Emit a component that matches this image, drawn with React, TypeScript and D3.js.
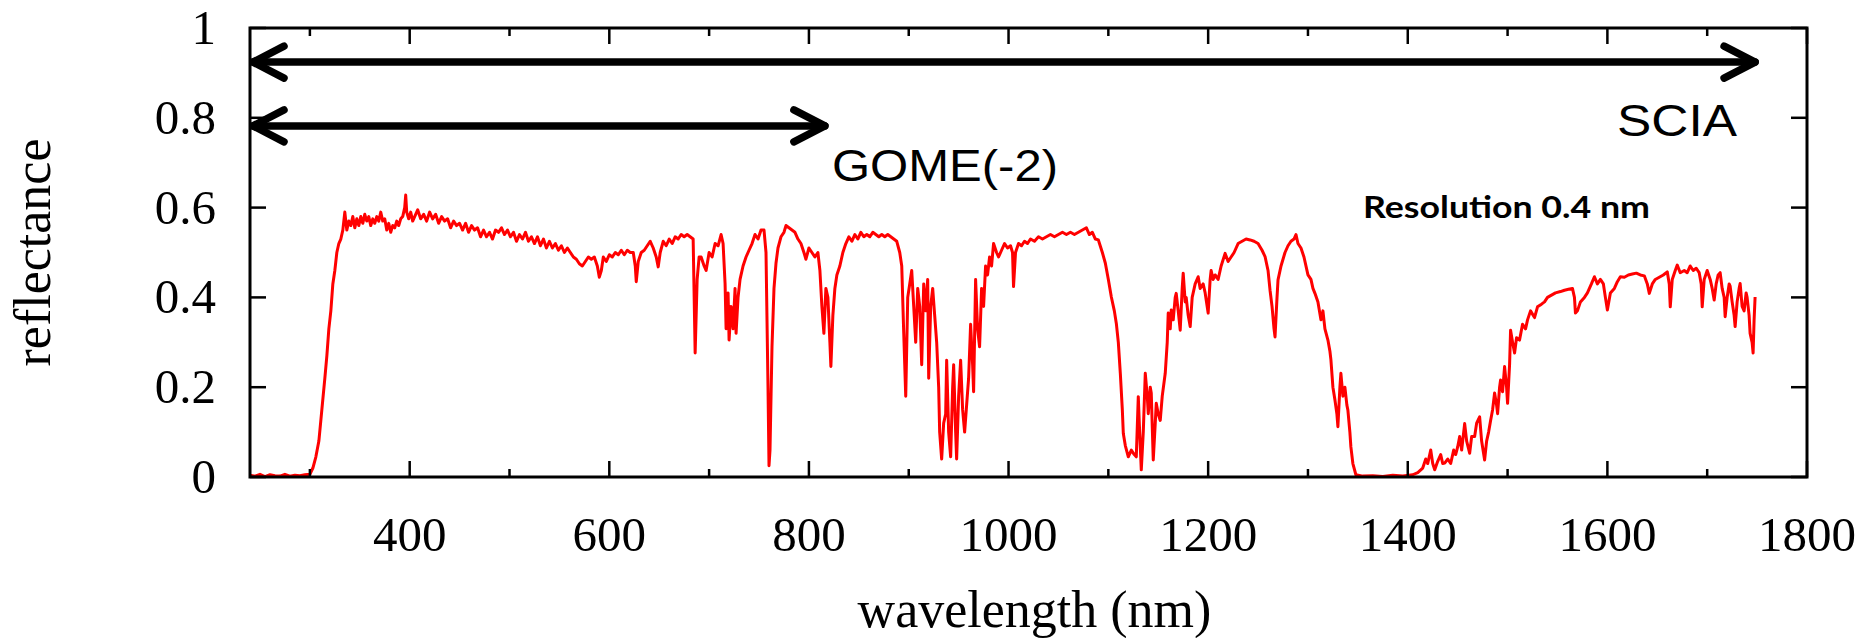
import React from "react";
import * as d3 from "d3";

// ---- data (wavelength nm, reflectance) ----
const uvSegment: [number, number][] = [
  [240, 0.004], [245, 0.002], [250, 0.006], [255, 0.001], [260, 0.005], [265, 0.003], [270, 0.002],
  [275, 0.006], [280, 0.002], [285, 0.004], [290, 0.003], [295, 0.005], [300, 0.006], [303, 0.02],
  [306, 0.045], [309, 0.08], [312, 0.15], [315, 0.22], [317, 0.27], [319, 0.33], [321, 0.37],
  [323, 0.43], [325, 0.46], [327, 0.5], [329, 0.52], [331, 0.53], [333, 0.55], [335, 0.59],
  [337, 0.55], [339, 0.57], [341, 0.56], [343, 0.58], [345, 0.555], [347, 0.575], [349, 0.56],
  [351, 0.58], [353, 0.565], [355, 0.585], [357, 0.57], [359, 0.58], [361, 0.56], [363, 0.575],
  [365, 0.565], [367, 0.58], [369, 0.57], [371, 0.59], [373, 0.57], [375, 0.575], [377, 0.55],
  [379, 0.565], [381, 0.545], [383, 0.56], [385, 0.555], [387, 0.57], [389, 0.56], [391, 0.575],
  [393, 0.58], [395, 0.6], [396, 0.628], [397, 0.59], [399, 0.575], [401, 0.59], [403, 0.57],
];

const visSegment: [number, number][] = [
  [405, 0.58], [408, 0.595], [411, 0.575], [414, 0.585], [417, 0.57], [420, 0.59], [423, 0.575],
  [426, 0.585], [429, 0.565], [432, 0.58], [435, 0.57], [438, 0.575], [441, 0.555], [444, 0.57],
  [447, 0.56], [450, 0.565], [453, 0.55], [456, 0.565], [459, 0.545], [462, 0.56], [465, 0.55],
  [468, 0.555], [471, 0.535], [474, 0.55], [477, 0.535], [480, 0.545], [483, 0.53], [486, 0.55],
  [489, 0.545], [492, 0.555], [495, 0.54], [498, 0.55], [501, 0.535], [504, 0.545], [507, 0.525],
  [510, 0.54], [513, 0.53], [516, 0.545], [519, 0.525], [522, 0.535], [525, 0.52], [528, 0.535],
  [531, 0.515], [534, 0.53], [537, 0.51], [540, 0.525], [543, 0.51], [546, 0.52], [549, 0.505],
  [552, 0.515], [555, 0.5], [558, 0.51], [561, 0.5], [564, 0.49], [567, 0.485], [570, 0.475],
  [573, 0.47], [576, 0.48], [579, 0.49], [582, 0.485], [585, 0.49], [588, 0.47], [590, 0.445],
  [592, 0.46], [594, 0.49], [597, 0.48], [600, 0.495], [603, 0.49], [606, 0.5], [609, 0.495],
  [612, 0.505], [615, 0.495], [618, 0.505], [621, 0.5], [624, 0.5], [626, 0.47], [627, 0.435],
  [629, 0.48], [632, 0.5], [635, 0.505], [638, 0.515], [641, 0.525], [644, 0.51], [647, 0.49],
  [649, 0.468], [651, 0.5], [654, 0.525], [657, 0.515], [660, 0.53], [663, 0.52], [666, 0.535],
  [669, 0.53], [672, 0.54], [675, 0.535], [678, 0.54], [681, 0.535], [684, 0.53], [686, 0.276],
  [688, 0.44], [690, 0.49],
];

const nirSegment: [number, number][] = [
  [692, 0.49], [695, 0.47], [697, 0.46], [700, 0.5], [703, 0.49], [706, 0.52], [709, 0.515],
  [712, 0.54], [714, 0.52], [716, 0.43], [717, 0.33], [719, 0.41], [720, 0.305], [722, 0.38],
  [724, 0.33], [726, 0.42], [727, 0.32], [729, 0.4], [731, 0.44], [734, 0.47], [737, 0.49],
  [740, 0.505], [743, 0.52], [746, 0.54], [749, 0.53], [752, 0.55], [755, 0.55], [757, 0.5],
  [759, 0.2], [760, 0.025], [761, 0.06], [763, 0.29], [765, 0.42], [767, 0.476], [769, 0.51],
  [772, 0.535], [775, 0.545], [777, 0.56], [780, 0.555], [783, 0.55], [786, 0.545], [789, 0.53],
  [792, 0.52], [795, 0.5], [797, 0.485], [800, 0.51], [803, 0.5], [806, 0.49], [809, 0.5],
  [811, 0.46], [813, 0.38], [815, 0.32], [817, 0.42], [819, 0.4], [821, 0.3], [822, 0.246],
  [824, 0.36], [826, 0.42], [828, 0.45], [831, 0.47], [834, 0.5], [837, 0.52], [840, 0.535],
  [843, 0.525], [846, 0.54], [849, 0.53], [852, 0.545], [855, 0.535], [858, 0.54], [861, 0.535],
  [864, 0.545], [867, 0.54], [870, 0.535], [873, 0.54], [876, 0.535], [879, 0.54], [882, 0.535],
  [885, 0.53], [888, 0.525], [891, 0.5], [893, 0.47], [895, 0.32], [897, 0.18], [899, 0.4],
  [901, 0.43], [903, 0.46], [905, 0.38], [907, 0.3], [909, 0.42], [911, 0.38], [913, 0.25],
  [915, 0.43], [917, 0.37], [919, 0.44], [920, 0.22], [922, 0.38], [924, 0.42], [926, 0.36],
  [928, 0.3], [930, 0.2], [931, 0.1], [933, 0.04], [935, 0.12], [937, 0.14], [938, 0.26],
  [940, 0.1], [942, 0.045], [944, 0.2], [945, 0.25], [947, 0.1], [948, 0.04], [950, 0.18],
  [952, 0.26], [954, 0.15], [956, 0.1], [958, 0.16], [960, 0.22], [962, 0.34], [964, 0.25],
  [965, 0.19], [967, 0.44], [969, 0.33], [971, 0.29], [973, 0.42], [975, 0.38], [977, 0.47],
  [979, 0.45], [981, 0.49], [983, 0.47], [985, 0.52], [988, 0.5], [990, 0.49], [993, 0.505],
  [996, 0.52], [999, 0.51], [1002, 0.515], [1004, 0.5], [1005, 0.424], [1007, 0.5],
];

const swirSegment: [number, number][] = [
  [1010, 0.52], [1013, 0.515], [1016, 0.525], [1019, 0.52], [1022, 0.53], [1026, 0.525],
  [1030, 0.535], [1034, 0.53], [1038, 0.535], [1042, 0.54], [1046, 0.535], [1050, 0.54],
  [1054, 0.545], [1058, 0.54], [1062, 0.545], [1066, 0.54], [1070, 0.545], [1074, 0.55],
  [1078, 0.555], [1081, 0.54], [1084, 0.545], [1087, 0.53], [1090, 0.528], [1094, 0.5],
  [1097, 0.476], [1100, 0.44], [1103, 0.401], [1106, 0.37], [1108, 0.342], [1110, 0.3],
  [1112, 0.231], [1114, 0.15], [1115, 0.097], [1117, 0.07], [1120, 0.045], [1123, 0.06],
  [1126, 0.05], [1128, 0.045], [1130, 0.179], [1131, 0.12], [1133, 0.016], [1135, 0.1],
  [1137, 0.231], [1139, 0.18], [1140, 0.141], [1142, 0.2], [1143, 0.187], [1145, 0.038],
  [1147, 0.12], [1148, 0.164], [1150, 0.14], [1152, 0.126], [1154, 0.18], [1157, 0.231],
  [1159, 0.3], [1160, 0.365], [1162, 0.33], [1163, 0.372], [1165, 0.35], [1167, 0.4],
  [1168, 0.409], [1170, 0.37], [1172, 0.327], [1174, 0.42], [1175, 0.454], [1177, 0.39],
  [1178, 0.4], [1180, 0.36], [1182, 0.335], [1184, 0.4], [1187, 0.43], [1190, 0.446],
  [1192, 0.42], [1195, 0.43], [1197, 0.41], [1200, 0.365], [1202, 0.44], [1203, 0.46],
  [1205, 0.44], [1207, 0.45], [1210, 0.44], [1213, 0.47], [1217, 0.498], [1220, 0.48],
  [1223, 0.49], [1226, 0.5], [1230, 0.52], [1234, 0.525], [1238, 0.53], [1242, 0.528],
  [1246, 0.525], [1250, 0.52], [1254, 0.505], [1257, 0.491], [1260, 0.46], [1262, 0.416],
  [1264, 0.38], [1266, 0.33], [1267, 0.312], [1269, 0.4], [1270, 0.439], [1273, 0.47],
  [1277, 0.5], [1280, 0.515], [1283, 0.525], [1286, 0.53], [1288, 0.54], [1290, 0.52],
  [1293, 0.51], [1296, 0.49], [1300, 0.45], [1303, 0.44], [1305, 0.42], [1307, 0.409],
  [1310, 0.39], [1313, 0.35], [1315, 0.37], [1317, 0.33], [1320, 0.305], [1322, 0.28],
  [1323, 0.261], [1325, 0.2], [1327, 0.172], [1329, 0.14], [1330, 0.112], [1332, 0.2],
  [1333, 0.231], [1335, 0.18], [1337, 0.2], [1339, 0.16], [1340, 0.149], [1342, 0.1],
  [1343, 0.067], [1345, 0.03], [1348, 0.005], [1355, 0.002], [1365, 0.003], [1375, 0.001],
  [1385, 0.004], [1395, 0.002], [1405, 0.005], [1410, 0.01], [1415, 0.02],
];

const longSwirSegment: [number, number][] = [
  [1418, 0.04], [1420, 0.03], [1423, 0.06], [1425, 0.03], [1427, 0.016], [1430, 0.035],
  [1433, 0.05], [1435, 0.03], [1437, 0.031], [1440, 0.04], [1443, 0.03], [1446, 0.06],
  [1448, 0.05], [1450, 0.067], [1452, 0.09], [1454, 0.06], [1457, 0.119], [1459, 0.08],
  [1462, 0.053], [1464, 0.09], [1467, 0.09], [1469, 0.12], [1472, 0.134], [1474, 0.08],
  [1477, 0.038], [1479, 0.08], [1481, 0.1], [1483, 0.126], [1485, 0.15], [1487, 0.187],
  [1489, 0.16], [1490, 0.141], [1492, 0.2], [1493, 0.216], [1495, 0.19], [1497, 0.246],
  [1499, 0.2], [1500, 0.164], [1502, 0.25], [1503, 0.327], [1505, 0.3], [1507, 0.276],
  [1509, 0.31], [1512, 0.305], [1515, 0.34], [1518, 0.33], [1520, 0.35], [1523, 0.37],
  [1527, 0.355], [1530, 0.379], [1534, 0.385], [1537, 0.39], [1540, 0.4], [1544, 0.405],
  [1548, 0.41], [1553, 0.413], [1557, 0.416], [1561, 0.418], [1565, 0.42], [1567, 0.4],
  [1568, 0.365], [1570, 0.37], [1573, 0.39], [1577, 0.4], [1580, 0.41], [1584, 0.43],
  [1587, 0.446], [1590, 0.43], [1593, 0.44], [1596, 0.43], [1598, 0.4], [1600, 0.372],
  [1603, 0.41], [1607, 0.42], [1610, 0.435], [1613, 0.446], [1617, 0.445], [1621, 0.45],
  [1625, 0.452], [1629, 0.454], [1633, 0.45], [1637, 0.448], [1640, 0.43], [1642, 0.409],
  [1645, 0.43], [1648, 0.44], [1652, 0.445], [1656, 0.45], [1660, 0.457], [1662, 0.43],
  [1663, 0.379], [1665, 0.44], [1668, 0.46], [1670, 0.472], [1673, 0.455], [1677, 0.46],
  [1680, 0.455], [1683, 0.47], [1686, 0.46], [1689, 0.465], [1692, 0.455], [1694, 0.43],
  [1695, 0.379], [1697, 0.44], [1700, 0.46], [1703, 0.44], [1705, 0.42], [1707, 0.394],
  [1709, 0.43], [1711, 0.45], [1713, 0.455], [1715, 0.42], [1717, 0.4], [1718, 0.357],
  [1720, 0.4], [1722, 0.43], [1723, 0.425], [1725, 0.39], [1727, 0.36], [1728, 0.335],
  [1730, 0.39], [1732, 0.42], [1733, 0.431], [1735, 0.38], [1737, 0.37], [1739, 0.41],
  [1740, 0.4], [1742, 0.36], [1743, 0.32], [1745, 0.3], [1746, 0.276], [1747, 0.35],
  [1748, 0.401],
];

const xMajorTicks = [400, 600, 800, 1000, 1200, 1400, 1600, 1800];
const xMinorTicks = [300, 500, 700, 900, 1100, 1300, 1500, 1700];
const xTickLabels = ["400", "600", "800", "1000", "1200", "1400", "1600", "1800"];
const yTicks = [0, 0.2, 0.4, 0.6, 0.8, 1];
const yTickLabels = ["0", "0.2", "0.4", "0.6", "0.8", "1"];

// instrument ranges: [start nm, end nm, reflectance level]
const sciaRange = [240, 1748, 0.924];
const gomeRange = [240, 816, 0.782];

const W = 1875;
const H = 638;
const L = 250, R = 1807, T = 28, B = 477;

export default function App() {
  const x = d3.scaleLinear().domain([240, 1800]).range([L, R]);
  const y = d3.scaleLinear().domain([0, 1]).range([B, T]);
  const data = [...uvSegment, ...visSegment, ...nirSegment, ...swirSegment, ...longSwirSegment];
  const line = d3
    .line<[number, number]>()
    .x((d) => x(d[0]))
    .y((d) => y(d[1]));

  const serif = "'Liberation Serif', 'Times New Roman', serif";
  const major = 16;
  const minor = 8;

  const arrow = (r: number[], key: string) => {
    const x0 = x(r[0]) + 3;
    const x1 = x(r[1]);
    const yy = y(r[2]);
    return (
      <g key={key} stroke="#000" strokeWidth={7.5} strokeLinecap="round" strokeLinejoin="round" fill="none">
        <line x1={x0} y1={yy} x2={x1} y2={yy} />
        <polyline points={`${x0 + 31},${yy - 16} ${x0},${yy} ${x0 + 31},${yy + 16}`} />
        <polyline points={`${x1 - 31},${yy - 16} ${x1},${yy} ${x1 - 31},${yy + 16}`} />
      </g>
    );
  };

  return (
    <svg
      width={W}
      height={H}
      style={{ position: "absolute", left: 0, top: 0, display: "block", background: "#fff" }}
    >
      <rect x={0} y={0} width={W} height={H} fill="#fff" />
      {/* data line */}
      <path d={line(data) || ""} fill="none" stroke="#ff0000" strokeWidth={3} strokeLinejoin="round" />

      {/* ticks */}
      <g stroke="#000" strokeWidth={2.5}>
        {xMajorTicks.map((t) => (
          <g key={"xM" + t}>
            <line x1={x(t)} x2={x(t)} y1={B} y2={B - major} />
            <line x1={x(t)} x2={x(t)} y1={T} y2={T + major} />
          </g>
        ))}
        {xMinorTicks.map((t) => (
          <g key={"xm" + t}>
            <line x1={x(t)} x2={x(t)} y1={B} y2={B - minor} />
            <line x1={x(t)} x2={x(t)} y1={T} y2={T + minor} />
          </g>
        ))}
        {yTicks.map((t) => (
          <g key={"y" + t}>
            <line x1={L} x2={L + major} y1={y(t)} y2={y(t)} />
            <line x1={R} x2={R - major} y1={y(t)} y2={y(t)} />
          </g>
        ))}
      </g>

      {/* frame */}
      <rect x={L} y={T} width={R - L} height={B - T} fill="none" stroke="#000" strokeWidth={3} />

      {/* arrows */}
      {arrow(sciaRange, "scia")}
      {arrow(gomeRange, "gome")}

      {/* tick labels */}
      <g fontFamily={serif} fontSize={49} fill="#000">
        {xMajorTicks.map((t, i) => (
          <text key={"xl" + t} x={x(t)} y={551} textAnchor="middle">
            {xTickLabels[i]}
          </text>
        ))}
        {yTicks.map((t, i) => (
          <text key={"yl" + t} x={216} y={y(t) + 16} textAnchor="end">
            {yTickLabels[i]}
          </text>
        ))}
      </g>

      {/* axis titles */}
      <text x={(L + R) / 2 + 6} y={627} textAnchor="middle" fontFamily={serif} fontSize={52} fill="#000">
        wavelength (nm)
      </text>
      <text
        transform={`translate(50, ${(T + B) / 2}) rotate(-90)`}
        textAnchor="middle"
        fontFamily={serif}
        fontSize={52}
        fill="#000"
      >
        reflectance
      </text>

      {/* annotations */}
      <text x={1617} y={136} fontFamily="'Liberation Sans', sans-serif" fontSize={44} textLength={120} lengthAdjust="spacingAndGlyphs" fill="#000">
        SCIA
      </text>
      <text x={832} y={181} fontFamily="'Liberation Sans', sans-serif" fontSize={44} textLength={226} lengthAdjust="spacingAndGlyphs" fill="#000">
        GOME(-2)
      </text>
      <text x={1363} y={218} fontFamily="Lato, 'Open Sans', sans-serif" fontWeight={700} fontSize={31} textLength={287} lengthAdjust="spacingAndGlyphs" fill="#000">
        Resolution 0.4 nm
      </text>
    </svg>
  );
}
